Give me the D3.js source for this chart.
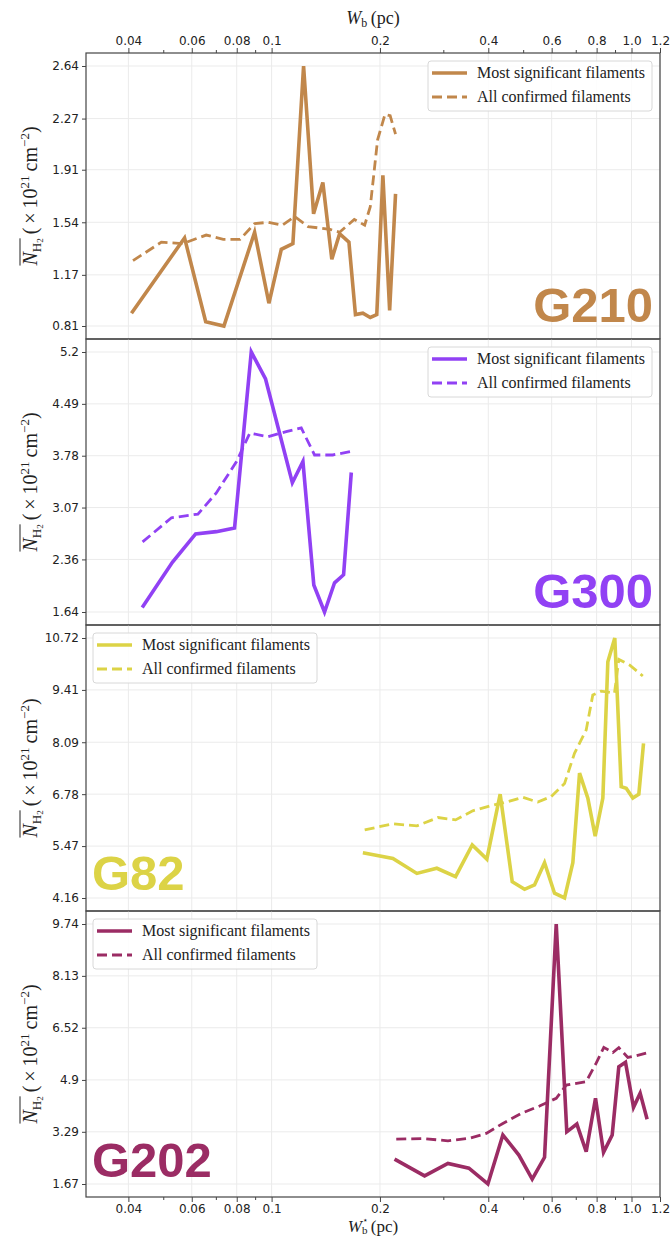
<!DOCTYPE html>
<html>
<head>
<meta charset="utf-8">
<script src="https://cdn.jsdelivr.net/npm/d3@7"></script>
<style>
  body { margin: 0; background: #fff; }
  .tick text { font-family: "DejaVu Sans", sans-serif; font-size: 12px; fill: #222; }
</style>
</head>
<body>
<svg id="chart" width="671" height="1236"></svg>
<script>
// Filament width (pc) versus mean H2 column density (1e21 cm^-2), four regions.

const xTickValues = [0.04, 0.06, 0.08, 0.1, 0.2, 0.4, 0.6, 0.8, 1.0, 1.2];
const xTickLabels = ["0.04", "0.06", "0.08", "0.1", "0.2", "0.4", "0.6", "0.8", "1.0", "1.2"];
const xMinorTicks = [0.05, 0.07, 0.09, 0.3, 0.5, 0.7, 0.9];

const regionNames = ["G210", "G300", "G82", "G202"];
const regionColors = ["#c1874b", "#9141f4", "#dcd346", "#9b2c64"];

const g210Ticks = [0.81, 1.17, 1.54, 1.91, 2.27, 2.64];
const g300Ticks = [1.64, 2.36, 3.07, 3.78, 4.49, 5.2];
const g82Ticks = [4.16, 5.47, 6.78, 8.09, 9.41, 10.72];
const g202Ticks = [1.67, 3.29, 4.9, 6.52, 8.13, 9.74];

// G210
const g210SigW = [0.0408, 0.0573, 0.0656, 0.0737, 0.0897, 0.0983, 0.1064, 0.1146, 0.1227, 0.1308, 0.1388, 0.147, 0.1545, 0.164, 0.171, 0.1793, 0.188, 0.196, 0.2038, 0.2128, 0.221];
const g210SigN = [0.90, 1.43, 0.84, 0.81, 1.47, 0.97, 1.35, 1.39, 2.64, 1.60, 1.82, 1.28, 1.46, 1.40, 0.89, 0.90, 0.87, 0.89, 1.87, 0.92, 1.74];
const g210AllW = [0.0412, 0.0494, 0.0566, 0.0658, 0.0734, 0.0817, 0.0897, 0.0978, 0.1071, 0.1159, 0.1263, 0.1453, 0.1545, 0.1697, 0.1814, 0.188, 0.197, 0.2066, 0.2135, 0.221];
const g210AllN = [1.27, 1.40, 1.39, 1.45, 1.42, 1.42, 1.53, 1.54, 1.52, 1.58, 1.51, 1.49, 1.47, 1.56, 1.52, 1.65, 2.12, 2.30, 2.29, 2.16];

// G300
const g300SigW = [0.0437, 0.053, 0.0615, 0.0702, 0.0789, 0.0878, 0.0962, 0.1142, 0.1222, 0.131, 0.1403, 0.1496, 0.1585, 0.1665];
const g300SigN = [1.70, 2.32, 2.71, 2.74, 2.79, 5.20, 4.83, 3.41, 3.70, 2.01, 1.64, 2.04, 2.15, 3.55];
const g300AllW = [0.0438, 0.0527, 0.0624, 0.0702, 0.0799, 0.087, 0.0978, 0.1098, 0.1209, 0.1316, 0.1479, 0.1665];
const g300AllN = [2.60, 2.93, 2.98, 3.27, 3.70, 4.09, 4.04, 4.11, 4.16, 3.79, 3.79, 3.84];

// G82
const g82SigW = [0.1793, 0.2173, 0.2533, 0.2878, 0.3245, 0.361, 0.3963, 0.4316, 0.4662, 0.5045, 0.5377, 0.5733, 0.6111, 0.6516, 0.6871, 0.7172, 0.7563, 0.7926, 0.8325, 0.8595, 0.8986, 0.9363, 0.9667, 1.0084, 1.048, 1.08];
const g82SigN = [5.30, 5.16, 4.78, 4.91, 4.70, 5.50, 5.14, 6.78, 4.57, 4.38, 4.49, 5.05, 4.28, 4.16, 5.05, 7.31, 6.68, 5.72, 6.68, 10.12, 10.72, 6.97, 6.93, 6.68, 6.78, 8.06];
const g82AllW = [0.1814, 0.2173, 0.2533, 0.2899, 0.3245, 0.3622, 0.4074, 0.4536, 0.4991, 0.549, 0.5981, 0.6516, 0.6943, 0.7484, 0.7806, 0.8236, 0.8969, 0.922, 0.9873, 1.075];
const g82AllN = [5.88, 6.03, 5.98, 6.19, 6.13, 6.36, 6.49, 6.59, 6.70, 6.58, 6.72, 7.05, 7.81, 8.40, 9.28, 9.38, 9.33, 10.18, 10.04, 9.76];

// G202
const g202SigW = [0.2196, 0.2661, 0.309, 0.3533, 0.399, 0.4391, 0.4864, 0.5298, 0.5733, 0.6178, 0.661, 0.7049, 0.7484, 0.7943, 0.8362, 0.8838, 0.922, 0.9623, 1.013, 1.057, 1.105];
const g202SigN = [2.44, 1.92, 2.31, 2.16, 1.67, 3.19, 2.57, 1.82, 2.50, 9.74, 3.29, 3.53, 2.67, 4.33, 2.65, 3.19, 5.31, 5.45, 4.05, 4.49, 3.68];
const g202AllW = [0.222, 0.2633, 0.309, 0.3548, 0.3948, 0.4391, 0.4938, 0.5553, 0.6178, 0.6588, 0.7484, 0.7977, 0.8376, 0.8873, 0.922, 0.9766, 1.03, 1.098];
const g202AllN = [3.06, 3.08, 3.01, 3.09, 3.24, 3.55, 3.86, 4.09, 4.33, 4.74, 4.85, 5.42, 5.91, 5.75, 5.90, 5.60, 5.65, 5.73];

const legendLabels = ["Most significant filaments", "All confirmed filaments"];

// ---- layout ----
const left = 86, right = 660;
const panelTop = 53, panelH = 286;

const panels = [
  { ticks: g210Ticks, sigW: g210SigW, sigN: g210SigN, allW: g210AllW, allN: g210AllN, legendRight: true,  tagRight: true,  tagBase: 269 },
  { ticks: g300Ticks, sigW: g300SigW, sigN: g300SigN, allW: g300AllW, allN: g300AllN, legendRight: true,  tagRight: true,  tagBase: 269 },
  { ticks: g82Ticks,  sigW: g82SigW,  sigN: g82SigN,  allW: g82AllW,  allN: g82AllN,  legendRight: false, tagRight: false, tagBase: 265 },
  { ticks: g202Ticks, sigW: g202SigW, sigN: g202SigN, allW: g202AllW, allN: g202AllN, legendRight: false, tagRight: false, tagBase: 266 }
];

const svg = d3.select("#chart");
const x = d3.scaleLog().domain([0.0305, 1.2]).range([left, right]);

const serif = "'Liberation Serif', 'DejaVu Serif', serif";

panels.forEach((p, i) => {
  const top = panelTop + i * panelH;
  const bottom = top + panelH;
  const color = regionColors[i];
  const lo = p.ticks[0], hi = p.ticks[p.ticks.length - 1];
  const pad = 0.05 * (hi - lo);
  const y = d3.scaleLinear().domain([lo - pad, hi + pad]).range([bottom, top]);

  const g = svg.append("g");

  // grid
  g.append("g").selectAll("line").data(xTickValues).join("line")
    .attr("x1", d => x(d)).attr("x2", d => x(d))
    .attr("y1", top).attr("y2", bottom)
    .attr("stroke", "#ebebeb").attr("stroke-width", 1);
  g.append("g").selectAll("line").data(p.ticks).join("line")
    .attr("x1", left).attr("x2", right)
    .attr("y1", d => y(d)).attr("y2", d => y(d))
    .attr("stroke", "#ebebeb").attr("stroke-width", 1);

  // y axis
  const yAxis = g.append("g").attr("transform", `translate(${left},0)`)
    .call(d3.axisLeft(y).tickValues(p.ticks).tickFormat(d3.format(".2~f")).tickSize(4).tickSizeOuter(0).tickPadding(3));
  yAxis.select(".domain").remove();
  yAxis.selectAll(".tick line").attr("stroke", "#444");

  // lines
  const line = d3.line().x(d => x(d[0])).y(d => y(d[1]));
  const sig = p.sigW.map((w, k) => [w, p.sigN[k]]);
  const all = p.allW.map((w, k) => [w, p.allN[k]]);
  g.append("path").datum(sig).attr("d", line)
    .attr("fill", "none").attr("stroke", color).attr("stroke-width", 3.6)
    .attr("stroke-linejoin", "miter").attr("stroke-miterlimit", 4);
  g.append("path").datum(all).attr("d", line)
    .attr("fill", "none").attr("stroke", color).attr("stroke-width", 2.8)
    .attr("stroke-dasharray", "10,5");

  // region tag
  g.append("text")
    .attr("x", p.tagRight ? 653 : 92)
    .attr("y", top + p.tagBase)
    .attr("text-anchor", p.tagRight ? "end" : "start")
    .attr("font-family", "'Liberation Sans', Arial, sans-serif")
    .attr("font-weight", "bold")
    .attr("font-size", 49)
    .attr("fill", color)
    .text(regionNames[i]);

  // legend
  const lx = p.legendRight ? 428 : 93;
  const ly = top + 8;
  const lg = g.append("g");
  lg.append("rect").attr("x", lx).attr("y", ly).attr("width", 224).attr("height", 50)
    .attr("rx", 3).attr("fill", "#fff").attr("fill-opacity", 0.85)
    .attr("stroke", "#d8d8d8").attr("stroke-width", 1);
  legendLabels.forEach((lab, k) => {
    const ry = ly + 12 + k * 24;
    lg.append("line").attr("x1", lx + 4).attr("x2", lx + 39).attr("y1", ry).attr("y2", ry)
      .attr("stroke", color).attr("stroke-width", k === 0 ? 3.6 : 2.8)
      .attr("stroke-dasharray", k === 0 ? null : "10,5");
    lg.append("text").attr("x", lx + 49).attr("y", ry + 5)
      .attr("font-family", serif).attr("font-size", 16).attr("fill", "#222")
      .text(lab);
  });

  // y axis title
  const tg = g.append("g").attr("transform", `translate(37,${(top + bottom) / 2}) rotate(-90)`);
  const t = tg.append("text").attr("x", 0).attr("y", 0).attr("text-anchor", "middle")
    .attr("font-family", serif).attr("font-size", 20).attr("fill", "#222");
  t.append("tspan").attr("font-style", "italic").text("N");
  t.append("tspan").attr("font-size", 13).attr("dy", 4).text("H");
  t.append("tspan").attr("font-size", 9).attr("dy", 2).text("2");
  t.append("tspan").attr("dy", -6).text("\u2009(\u2009×\u200910");
  t.append("tspan").attr("font-size", 13).attr("dy", -8).text("21");
  t.append("tspan").attr("dy", 8).text("\u2009cm");
  t.append("tspan").attr("font-size", 13).attr("dy", -8).text("\u22122");
  t.append("tspan").attr("dy", 8).text(")");
  const s0 = t.node().getStartPositionOfChar(0);
  const wN = t.node().getSubStringLength(0, 3);
  tg.append("line").attr("x1", s0.x).attr("x2", s0.x + wN)
    .attr("y1", -17).attr("y2", -17).attr("stroke", "#222").attr("stroke-width", 1);

  // frame
  g.append("rect").attr("x", left).attr("y", top).attr("width", right - left).attr("height", panelH)
    .attr("fill", "none").attr("stroke", "#444").attr("stroke-width", 1.2);
});

// top x axis
const topY = panelTop;
const topAxis = svg.append("g").attr("transform", `translate(0,${topY})`)
  .call(d3.axisTop(x).tickValues(xTickValues).tickFormat((d, i) => xTickLabels[i]).tickSize(5).tickSizeOuter(0).tickPadding(3));
topAxis.select(".domain").remove();
topAxis.selectAll(".tick line").attr("stroke", "#444");
const topMinor = svg.append("g").attr("transform", `translate(0,${topY})`)
  .call(d3.axisTop(x).tickValues(xMinorTicks).tickFormat("").tickSize(3).tickSizeOuter(0));
topMinor.select(".domain").remove();
topMinor.selectAll(".tick line").attr("stroke", "#444");

// bottom x axis
const botY = panelTop + 4 * panelH;
const botAxis = svg.append("g").attr("transform", `translate(0,${botY})`)
  .call(d3.axisBottom(x).tickValues(xTickValues).tickFormat((d, i) => xTickLabels[i]).tickSize(5).tickSizeOuter(0).tickPadding(2));
botAxis.select(".domain").remove();
botAxis.selectAll(".tick line").attr("stroke", "#444");
const botMinor = svg.append("g").attr("transform", `translate(0,${botY})`)
  .call(d3.axisBottom(x).tickValues(xMinorTicks).tickFormat("").tickSize(3).tickSizeOuter(0));
botMinor.select(".domain").remove();
botMinor.selectAll(".tick line").attr("stroke", "#444");

// x axis titles
const cx = (left + right) / 2;
const tt = svg.append("text").attr("x", cx).attr("y", 24).attr("text-anchor", "middle")
  .attr("font-family", serif).attr("font-size", 18).attr("fill", "#222");
tt.append("tspan").attr("font-style", "italic").text("W");
tt.append("tspan").attr("font-size", 12).attr("dy", 3).text("b");
tt.append("tspan").attr("dy", -3).text("\u2009(pc)");

const bt = svg.append("text").attr("x", cx).attr("y", 1232).attr("text-anchor", "middle")
  .attr("font-family", serif).attr("font-size", 17).attr("fill", "#222");
bt.append("tspan").attr("font-style", "italic").text("W");
bt.append("tspan").attr("font-size", 11).attr("dy", 2).text("b");
bt.append("tspan").attr("dy", -2).text("\u2009(pc)");
// star superscript placed over the subscript b
const bPos = bt.node().getStartPositionOfChar(1);
svg.append("text").attr("x", bPos.x + 0.5).attr("y", 1223)
  .attr("font-family", "'DejaVu Sans', sans-serif").attr("font-size", 9).attr("fill", "#222")
  .text("\u22c6");
</script>
</body>
</html>
